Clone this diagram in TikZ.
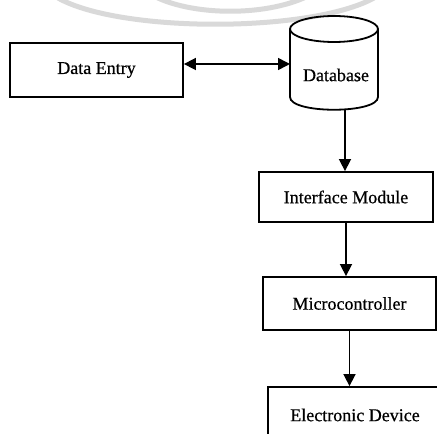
\documentclass[tikz,border=0pt]{standalone}
\usepackage{fontspec}
\setmainfont{Liberation Serif}[FakeBold=0.6]
\usetikzlibrary{arrows.meta}
\tikzset{
  txt/.style={font=\fontsize{18}{21}\selectfont, text=black},
  blk/.style={draw=black, line width=1.8pt, fill=white, inner sep=0pt, txt},
  arr/.style={line width=1.6pt, -{Triangle[length=12pt,width=12pt]}},
  darr/.style={line width=1.6pt, {Triangle[length=12pt,width=12pt]}-{Triangle[length=12pt,width=12pt]}},
  wm/.style={draw=black!15, line width=5pt}
}
\begin{document}
\begin{tikzpicture}[x=1pt,y=1pt]
\clip (0,0) rectangle (437,434);
\fill[white] (0,0) rectangle (437,434);
% watermark arcs
\draw[wm] (58,436) .. controls (120,401) and (310,401) .. (374,436);
\draw[wm] (150,440) .. controls (190,417) and (270,417) .. (312,440);
% Data Entry
\node[blk, minimum width=173pt, minimum height=54pt] (de) at (96.5,364) {Data Entry};
% Database cylinder
\draw[line width=1.8pt, fill=white] (290,405) -- (290,337) .. controls (290,320) and (378,320) .. (378,337) -- (378,405);
\draw[line width=1.8pt] (334,405) ellipse [x radius=44, y radius=13];
\node[txt, inner sep=0pt] (db) at (336,359) {Database};
\coordinate (dbl) at (290,370);
\coordinate (dbb) at (345,324);
% boxes
\node[blk, minimum width=174pt, minimum height=50pt] (im) at (346,237) {Interface Module};
\node[blk, minimum width=173pt, minimum height=53pt] (mc) at (349.5,130.5) {Microcontroller};
\node[blk, minimum width=174pt, minimum height=56pt] (ed) at (355,19) {Electronic Device};
% connectors
\draw[darr] (de.east |- dbl) -- (dbl);
\draw[arr] (dbb) -- (dbb |- im.north);
\draw[arr] (im.south) -- (im.south |- mc.north);
\draw[arr] (mc.south) -- (mc.south |- ed.north);
\end{tikzpicture}
\end{document}
